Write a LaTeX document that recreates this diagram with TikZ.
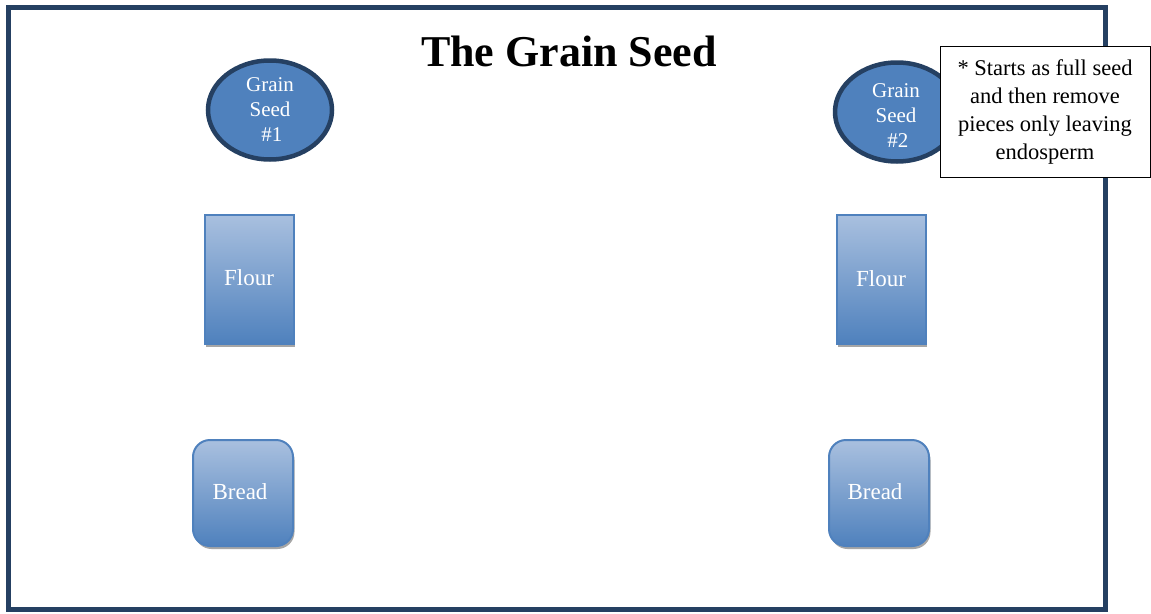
\documentclass[tikz,border=0pt]{standalone}
\usepackage{fontspec}
\setmainfont{Liberation Serif}
\usetikzlibrary{shapes.geometric,shadows}

\definecolor{seedblue}{RGB}{79,129,189}
\definecolor{seednavy}{RGB}{37,64,98}
\definecolor{paleblue}{RGB}{169,192,223}

\begin{document}
\begin{tikzpicture}[x=1pt, y=-1pt,
  seed/.style={ellipse, draw=seednavy, line width=4.5pt, fill=seedblue,
    minimum width=124pt, minimum height=99pt, inner sep=0pt,
    text=white, align=center, font=\fontsize{21}{25}\selectfont},
  seedtext/.style={text=white, align=center, inner sep=0pt,
    font=\fontsize{21}{25}\selectfont},
  stage/.style={draw=seedblue, line width=2pt, top color=paleblue,
    bottom color=seedblue, inner sep=0pt, text=white,
    font=\fontsize{23}{25}\selectfont,
    drop shadow={shadow xshift=1.5pt, shadow yshift=-3pt, fill=black!35, opacity=1}},
  flourbox/.style={stage, minimum width=89pt, minimum height=129pt},
  breadbox/.style={stage, rounded corners=17pt, minimum width=100pt, minimum height=106pt},
  notebox/.style={draw=black, line width=1pt, fill=white, align=center,
    minimum width=210pt, minimum height=131pt, inner sep=0pt,
    font=\fontsize{22.5}{28}\selectfont}]
  \useasboundingbox (0,0) rectangle (1151,613);
  \fill[white] (0,0) rectangle (1151,613);
  % frame and title
  \draw[seednavy, line width=5pt] (8,7) rectangle (1105,609);
  \node[font=\fontsize{44}{50}\selectfont\bfseries] (title) at (569,51) {The Grain Seed};
  % seeds
  \node[seed] (seed1) at (270,110) {Grain\\Seed\\ \,\#1};
  \node[seed] (seed2) at (897,112) {};
  \node[seedtext] (seed2label) at (896,116) {Grain\\Seed\\ \,\#2};
  \node[notebox] (note) at (1045,112) {* Starts as full seed\\and then remove\\pieces only leaving\\endosperm};
  % flour
  \node[flourbox] (flour1) at (249,279) {\raisebox{2pt}{Flour}};
  \node[flourbox] (flour2) at (881,279) {Flour};
  % bread
  \node[breadbox] (bread1) at (243,493) {\raisebox{3pt}{Bread}\hspace*{6pt}};
  \node[breadbox] (bread2) at (879,493) {\raisebox{3pt}{Bread}\hspace*{8pt}};
\end{tikzpicture}
\end{document}
